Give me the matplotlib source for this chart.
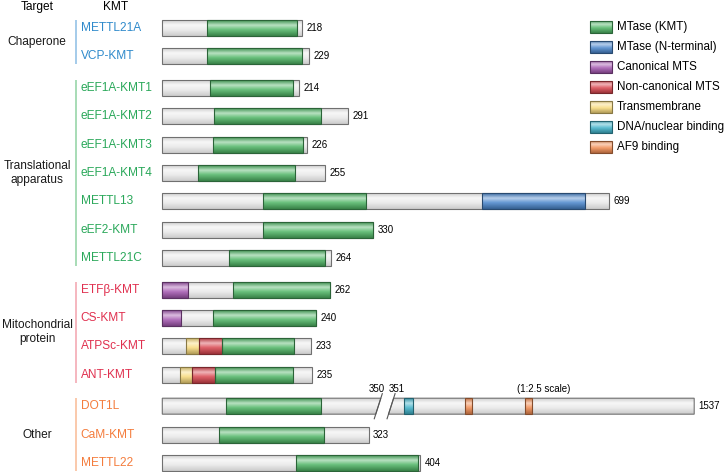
import numpy as np
import matplotlib.pyplot as plt
from matplotlib.colors import LinearSegmentedColormap, to_rgb
from matplotlib.patches import Polygon

plt.rcParams['font.family'] = ['Liberation Sans', 'DejaVu Sans']

# --- data ---
kmt_names = ["METTL21A", "VCP-KMT", "eEF1A-KMT1", "eEF1A-KMT2", "eEF1A-KMT3",
             "eEF1A-KMT4", "METTL13", "eEF2-KMT", "METTL21C", "ETF\u03b2-KMT",
             "CS-KMT", "ATPSc-KMT", "ANT-KMT", "DOT1L", "CaM-KMT", "METTL22"]
kmt_lengths = [218, 229, 214, 291, 226, 255, 699, 330, 264, 262, 240, 233, 235, 1537, 323, 404]
kmt_group = [0, 0, 1, 1, 1, 1, 1, 1, 1, 2, 2, 2, 2, 3, 3, 3]

group_names = ["Chaperone", "Translational\napparatus", "Mitochondrial\nprotein", "Other"]
group_colors = ["#2f8acb", "#2aa85a", "#e0304f", "#f47c3c"]
group_line_colors = ["#8cbde4", "#90d2a2", "#f2a3ad", "#f9bb95"]

# domains (protein, type, start, end)
dom_kmt = ["METTL21A", "VCP-KMT", "eEF1A-KMT1", "eEF1A-KMT2", "eEF1A-KMT3", "eEF1A-KMT4",
           "METTL13", "METTL13", "eEF2-KMT", "METTL21C",
           "ETF\u03b2-KMT", "ETF\u03b2-KMT", "CS-KMT", "CS-KMT",
           "ATPSc-KMT", "ATPSc-KMT", "ATPSc-KMT", "ANT-KMT", "ANT-KMT", "ANT-KMT",
           "DOT1L", "DOT1L", "DOT1L", "DOT1L", "CaM-KMT", "METTL22"]
dom_type = ["kmt", "kmt", "kmt", "kmt", "kmt", "kmt",
            "kmt", "nterm", "kmt", "kmt",
            "mts", "kmt", "mts", "kmt",
            "tm", "ncmts", "kmt", "tm", "ncmts", "kmt",
            "kmt", "dna", "af9", "af9", "kmt", "kmt"]
dom_start = [70, 70, 74, 81, 79, 56, 158, 501, 157, 105,
             0, 110, 0, 80, 37, 58, 94, 27, 47, 83,
             99, 403, 640, 874, 89, 210]
dom_end = [211, 218, 204, 249, 220, 207, 318, 661, 330, 254,
           40, 262, 30, 240, 58, 94, 206, 47, 83, 204,
           248, 437, 669, 903, 253, 400]

legend_types = ["kmt", "nterm", "mts", "ncmts", "tm", "dna", "af9"]
legend_labels = ["MTase (KMT)", "MTase (N-terminal)", "Canonical MTS", "Non-canonical MTS",
                 "Transmembrane", "DNA/nuclear binding", "AF9 binding"]

type_colors = {"bg": "#e2e2e2", "kmt": "#4fb565", "nterm": "#4a86cc", "mts": "#a458b0",
               "ncmts": "#d9464f", "tm": "#f8da7c", "dna": "#40b2c9", "af9": "#f18c52"}

# DOT1L is drawn with a break: 1-350 at normal scale, 351-1537 at 1:2.5
BREAK_AT, RESUME_AT, RESUME_X, SCALE2 = 350, 351, 358, 2.5

# --- layout helpers (pixel <-> data) ---
W, H = 727, 472
X0_PX, PX_PER_AA = 162.3, 0.639
Y0_PX, ROW_PX = 28, 28.4
GROUP_GAP = 3 / ROW_PX
BAR_H = 16 / ROW_PX


def px2x(px):
    return (px - X0_PX) / PX_PER_AA


def px2y(py):
    return (py - Y0_PX) / ROW_PX


def xmap(name, aa):
    if name == "DOT1L" and aa > BREAK_AT:
        return RESUME_X + (aa - RESUME_AT) / SCALE2
    return aa


def mix(c, other, t):
    c, o = np.array(to_rgb(c)), np.array(to_rgb(other))
    return tuple(c * (1 - t) + o * t)


def make_cmap(c):
    if c == type_colors["bg"]:
        stops = [(0, "#cfcfcf"), (0.3, "#f7f7f7"), (0.6, "#ececec"), (1, "#cbcbcb")]
    else:
        stops = [(0, mix(c, "black", 0.2)), (0.32, mix(c, "white", 0.6)),
                 (0.6, mix(c, "white", 0.15)), (1, mix(c, "black", 0.28))]
    return LinearSegmentedColormap.from_list("g", stops)


cmaps = {k: make_cmap(v) for k, v in type_colors.items()}
edges = {k: mix(v, "black", 0.45) for k, v in type_colors.items()}
edges["bg"] = "#707070"
GRAD = np.linspace(0, 1, 64).reshape(-1, 1)


def draw_shape(ax, verts, y_top, y_bot, kind, z=2):
    xs = [v[0] for v in verts]
    im = ax.imshow(GRAD, extent=(min(xs), max(xs), y_bot, y_top), cmap=cmaps[kind],
                   aspect="auto", interpolation="bilinear", zorder=z)
    poly = Polygon(verts, closed=True, fc="none", ec=edges[kind], lw=0.8, zorder=z + 0.1)
    ax.add_patch(poly)
    im.set_clip_path(poly)


def rect(x0, x1, yt, yb):
    return [(x0, yt), (x1, yt), (x1, yb), (x0, yb)]


fig = plt.figure(figsize=(W / 100, H / 100), dpi=100)
ax = fig.add_axes([0, 0, 1, 1])
ax.axis("off")

row_y = [i + GROUP_GAP * g for i, g in enumerate(kmt_group)]

# headers
ax.text(px2x(37), px2y(7), "Target", ha="center", va="center", fontsize=8.6)
ax.text(px2x(116), px2y(7), "KMT", ha="center", va="center", fontsize=8.6)

# group labels and lines
for g, gname in enumerate(group_names):
    ys = [row_y[i] for i in range(len(kmt_names)) if kmt_group[i] == g]
    ax.text(px2x(37), (ys[0] + ys[-1]) / 2, gname, ha="center", va="center",
            fontsize=8.6, linespacing=1.2, color="#1a1a1a")
    ax.plot([px2x(76), px2x(76)], [ys[0] - 0.28, ys[-1] + 0.28],
            color=group_line_colors[g], lw=1.1, solid_capstyle="butt")

# bars
for i, name in enumerate(kmt_names):
    yc = row_y[i]
    yt, yb = yc - BAR_H / 2, yc + BAR_H / 2
    L = kmt_lengths[i]
    ax.text(px2x(80.7), yc, name, ha="left", va="center", fontsize=8.6,
            color=group_colors[kmt_group[i]])
    if name == "DOT1L":
        slant = 8
        e1 = BREAK_AT - 8
        e2 = RESUME_X - 4
        draw_shape(ax, [(0, yt), (e1, yt), (e1 - slant, yb), (0, yb)], yt, yb, "bg")
        draw_shape(ax, [(e2 + slant, yt), (xmap(name, L), yt), (xmap(name, L), yb), (e2, yb)],
                   yt, yb, "bg")
        ext = 0.16
        k = slant / BAR_H
        for e in (e1, e2 + slant):
            ax.plot([e - slant - k * ext, e + k * ext], [yb + ext, yt - ext],
                    color="#555555", lw=0.8, zorder=5)
        ax.text(BREAK_AT - 2, yc - 0.6, str(BREAK_AT), ha="right", va="center", fontsize=7)
        ax.text(e2 + 1, yc - 0.6, str(RESUME_AT), ha="left", va="center", fontsize=7)
        ax.text(xmap(name, 950), yc - 0.6, "(1:2.5 scale)", ha="center", va="center", fontsize=7)
    else:
        draw_shape(ax, rect(0, L, yt, yb), yt, yb, "bg")
    for n, t, s, e in zip(dom_kmt, dom_type, dom_start, dom_end):
        if n == name:
            draw_shape(ax, rect(xmap(name, s), xmap(name, e), yt, yb), yt, yb, t, z=3)
    ax.text(xmap(name, L) + 7, yc, str(L), ha="left", va="center", fontsize=7)

# legend
for k, (t, lab) in enumerate(zip(legend_types, legend_labels)):
    yc = px2y(27 + 20 * k)
    h = 12.6 / ROW_PX
    draw_shape(ax, rect(px2x(590), px2x(611.7), yc - h / 2, yc + h / 2),
               yc - h / 2, yc + h / 2, t, z=3)
    ax.text(px2x(616.7), yc, lab, ha="left", va="center", fontsize=8.4)

ax.set_xlim(px2x(0), px2x(W))
ax.set_ylim(px2y(H), px2y(0))

fig.savefig("out.png", dpi=100)
